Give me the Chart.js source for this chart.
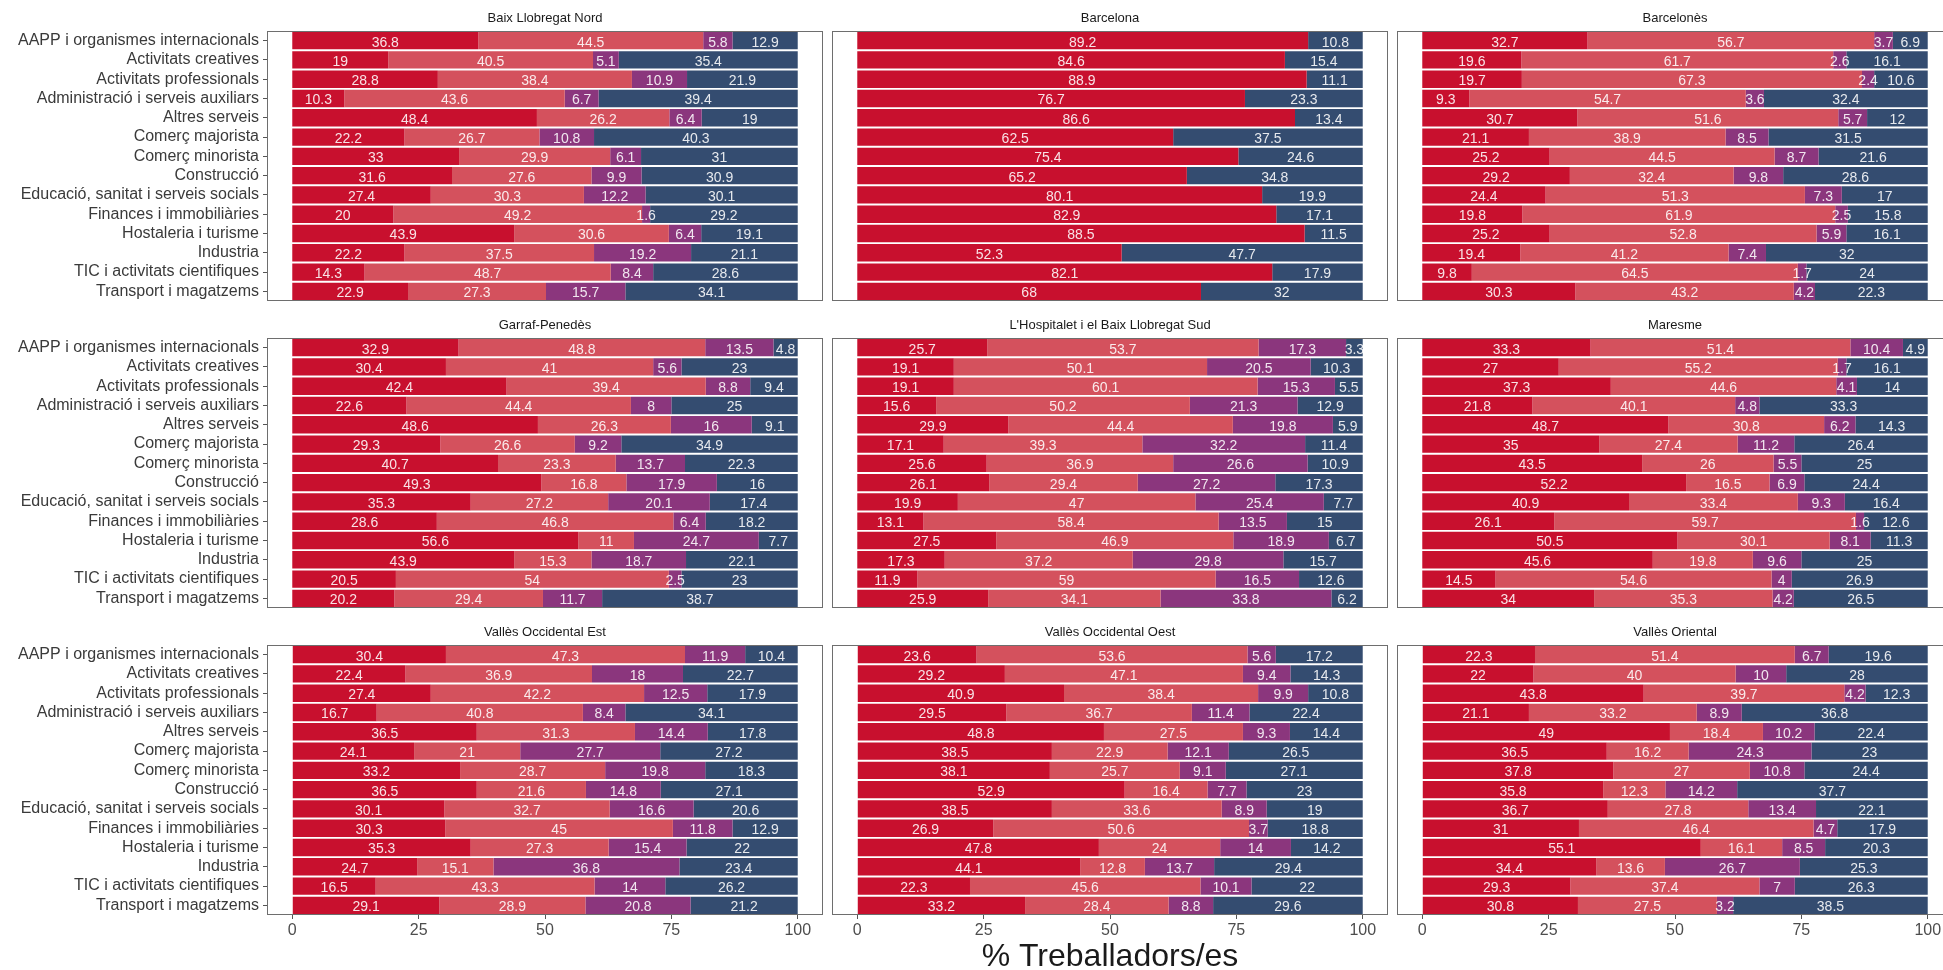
<!DOCTYPE html>
<html>
<head>
<meta charset="utf-8">
<script src="https://cdn.jsdelivr.net/npm/chart.js@4.4.1/dist/chart.umd.min.js"></script>
<style>
  html, body { margin: 0; padding: 0; background: #fff; overflow: hidden; }
  body { width: 1943px; height: 970px; position: relative; }
  canvas { position: absolute; }
</style>
</head>
<body>
<script>
const categories = [
  'AAPP i organismes internacionals',
  'Activitats creatives',
  'Activitats professionals',
  'Administració i serveis auxiliars',
  'Altres serveis',
  'Comerç majorista',
  'Comerç minorista',
  'Construcció',
  'Educació, sanitat i serveis socials',
  'Finances i immobiliàries',
  'Hostaleria i turisme',
  'Industria',
  'TIC i activitats cientifiques',
  'Transport i magatzems'
];

const regions = [
  'Baix Llobregat Nord', 'Barcelona', 'Barcelonès',
  'Garraf-Penedès', "L'Hospitalet i el Baix Llobregat Sud", 'Maresme',
  'Vallès Occidental Est', 'Vallès Occidental Oest', 'Vallès Oriental'
];

const seriesNames = ['Grup 1', 'Grup 2', 'Grup 3', 'Grup 4'];
const seriesColors = ['#C8102E', '#D4515D', '#8B367D', '#344C70'];
const xTicks = [0, 25, 50, 75, 100];
const xTitle = '% Treballadors/es';

// each comarca: [serie 1, serie 2, serie 3, serie 4], one value per category
const baixLlobregatNord = [
  [36.8, 19, 28.8, 10.3, 48.4, 22.2, 33, 31.6, 27.4, 20, 43.9, 22.2, 14.3, 22.9],
  [44.5, 40.5, 38.4, 43.6, 26.2, 26.7, 29.9, 27.6, 30.3, 49.2, 30.6, 37.5, 48.7, 27.3],
  [5.8, 5.1, 10.9, 6.7, 6.4, 10.8, 6.1, 9.9, 12.2, 1.6, 6.4, 19.2, 8.4, 15.7],
  [12.9, 35.4, 21.9, 39.4, 19, 40.3, 31, 30.9, 30.1, 29.2, 19.1, 21.1, 28.6, 34.1]
];
const barcelona = [
  [89.2, 84.6, 88.9, 76.7, 86.6, 62.5, 75.4, 65.2, 80.1, 82.9, 88.5, 52.3, 82.1, 68],
  [],
  [],
  [10.8, 15.4, 11.1, 23.3, 13.4, 37.5, 24.6, 34.8, 19.9, 17.1, 11.5, 47.7, 17.9, 32]
];
const barcelones = [
  [32.7, 19.6, 19.7, 9.3, 30.7, 21.1, 25.2, 29.2, 24.4, 19.8, 25.2, 19.4, 9.8, 30.3],
  [56.7, 61.7, 67.3, 54.7, 51.6, 38.9, 44.5, 32.4, 51.3, 61.9, 52.8, 41.2, 64.5, 43.2],
  [3.7, 2.6, 2.4, 3.6, 5.7, 8.5, 8.7, 9.8, 7.3, 2.5, 5.9, 7.4, 1.7, 4.2],
  [6.9, 16.1, 10.6, 32.4, 12, 31.5, 21.6, 28.6, 17, 15.8, 16.1, 32, 24, 22.3]
];
const garrafPenedes = [
  [32.9, 30.4, 42.4, 22.6, 48.6, 29.3, 40.7, 49.3, 35.3, 28.6, 56.6, 43.9, 20.5, 20.2],
  [48.8, 41, 39.4, 44.4, 26.3, 26.6, 23.3, 16.8, 27.2, 46.8, 11, 15.3, 54, 29.4],
  [13.5, 5.6, 8.8, 8, 16, 9.2, 13.7, 17.9, 20.1, 6.4, 24.7, 18.7, 2.5, 11.7],
  [4.8, 23, 9.4, 25, 9.1, 34.9, 22.3, 16, 17.4, 18.2, 7.7, 22.1, 23, 38.7]
];
const hospitalet = [
  [25.7, 19.1, 19.1, 15.6, 29.9, 17.1, 25.6, 26.1, 19.9, 13.1, 27.5, 17.3, 11.9, 25.9],
  [53.7, 50.1, 60.1, 50.2, 44.4, 39.3, 36.9, 29.4, 47, 58.4, 46.9, 37.2, 59, 34.1],
  [17.3, 20.5, 15.3, 21.3, 19.8, 32.2, 26.6, 27.2, 25.4, 13.5, 18.9, 29.8, 16.5, 33.8],
  [3.3, 10.3, 5.5, 12.9, 5.9, 11.4, 10.9, 17.3, 7.7, 15, 6.7, 15.7, 12.6, 6.2]
];
const maresme = [
  [33.3, 27, 37.3, 21.8, 48.7, 35, 43.5, 52.2, 40.9, 26.1, 50.5, 45.6, 14.5, 34],
  [51.4, 55.2, 44.6, 40.1, 30.8, 27.4, 26, 16.5, 33.4, 59.7, 30.1, 19.8, 54.6, 35.3],
  [10.4, 1.7, 4.1, 4.8, 6.2, 11.2, 5.5, 6.9, 9.3, 1.6, 8.1, 9.6, 4, 4.2],
  [4.9, 16.1, 14, 33.3, 14.3, 26.4, 25, 24.4, 16.4, 12.6, 11.3, 25, 26.9, 26.5]
];
const vallesOccEst = [
  [30.4, 22.4, 27.4, 16.7, 36.5, 24.1, 33.2, 36.5, 30.1, 30.3, 35.3, 24.7, 16.5, 29.1],
  [47.3, 36.9, 42.2, 40.8, 31.3, 21, 28.7, 21.6, 32.7, 45, 27.3, 15.1, 43.3, 28.9],
  [11.9, 18, 12.5, 8.4, 14.4, 27.7, 19.8, 14.8, 16.6, 11.8, 15.4, 36.8, 14, 20.8],
  [10.4, 22.7, 17.9, 34.1, 17.8, 27.2, 18.3, 27.1, 20.6, 12.9, 22, 23.4, 26.2, 21.2]
];
const vallesOccOest = [
  [23.6, 29.2, 40.9, 29.5, 48.8, 38.5, 38.1, 52.9, 38.5, 26.9, 47.8, 44.1, 22.3, 33.2],
  [53.6, 47.1, 38.4, 36.7, 27.5, 22.9, 25.7, 16.4, 33.6, 50.6, 24, 12.8, 45.6, 28.4],
  [5.6, 9.4, 9.9, 11.4, 9.3, 12.1, 9.1, 7.7, 8.9, 3.7, 14, 13.7, 10.1, 8.8],
  [17.2, 14.3, 10.8, 22.4, 14.4, 26.5, 27.1, 23, 19, 18.8, 14.2, 29.4, 22, 29.6]
];
const vallesOriental = [
  [22.3, 22, 43.8, 21.1, 49, 36.5, 37.8, 35.8, 36.7, 31, 55.1, 34.4, 29.3, 30.8],
  [51.4, 40, 39.7, 33.2, 18.4, 16.2, 27, 12.3, 27.8, 46.4, 16.1, 13.6, 37.4, 27.5],
  [6.7, 10, 4.2, 8.9, 10.2, 24.3, 10.8, 14.2, 13.4, 4.7, 8.5, 26.7, 7, 3.2],
  [19.6, 28, 12.3, 36.8, 22.4, 23, 24.4, 37.7, 22.1, 17.9, 20.3, 25.3, 26.3, 38.5]
];

const regionValues = [
  baixLlobregatNord, barcelona, barcelones,
  garrafPenedes, hospitalet, maresme,
  vallesOccEst, vallesOccOest, vallesOriental
];

Chart.defaults.font.family = '"Liberation Sans", Arial, sans-serif';

// panel frames (facet grid)
const frameLeft = [267, 832, 1397];
const frameTop = [31, 338, 645];
const frameW = 556, frameH = 270;

const panelBorder = {
  id: 'panelBorder',
  afterDraw(chart) {
    const {ctx, chartArea: a} = chart;
    ctx.save();
    ctx.strokeStyle = '#6e6e6e';
    ctx.lineWidth = 1;
    ctx.strokeRect(a.left + 0.5, a.top + 0.5, a.right - a.left - 1, a.bottom - a.top - 1);
    ctx.restore();
  }
};

const barLabels = {
  id: 'barLabels',
  afterDatasetsDraw(chart) {
    const ctx = chart.ctx;
    ctx.save();
    ctx.font = '14px "Liberation Sans", Arial, sans-serif';
    ctx.fillStyle = 'rgba(255,255,255,0.88)';
    ctx.textAlign = 'center';
    ctx.textBaseline = 'middle';
    chart.data.datasets.forEach((ds, i) => {
      chart.getDatasetMeta(i).data.forEach((bar, j) => {
        const v = ds.data[j];
        if (v == null) return;
        const p = bar.getCenterPoint();
        ctx.fillText(String(v), p.x, p.y + 2);
      });
    });
    ctx.restore();
  }
};

regions.forEach((name, idx) => {
  const r = Math.floor(idx / 3), c = idx % 3;
  const bottomRow = r === 2;
  const left = c === 0 ? 0 : frameLeft[c] - 6;
  const top = frameTop[r] - 31;
  const width = frameLeft[c] + frameW + 6 - left;
  const height = bottomRow ? 970 - top : 31 + frameH + 16;

  const canvas = document.createElement('canvas');
  canvas.width = width;
  canvas.height = height;
  canvas.style.left = left + 'px';
  canvas.style.top = top + 'px';
  canvas.style.width = width + 'px';
  canvas.style.height = height + 'px';
  document.body.appendChild(canvas);

  const values = regionValues[idx];

  new Chart(canvas, {
    type: 'bar',
    data: {
      labels: categories,
      datasets: seriesNames.map((s, k) => ({
        label: s,
        data: values[k],
        backgroundColor: seriesColors[k],
        borderWidth: 0,
        barPercentage: 0.9,
        categoryPercentage: 1
      }))
    },
    options: {
      indexAxis: 'y',
      responsive: false,
      animation: false,
      devicePixelRatio: 1,
      layout: {
        padding: { left: c === 0 ? 0 : 6, right: 6, top: 0, bottom: bottomRow ? 0 : 16 }
      },
      plugins: {
        legend: { display: false },
        tooltip: { enabled: false },
        title: {
          display: true,
          text: name,
          color: '#1a1a1a',
          fullSize: false,
          font: { size: 13, weight: 'normal', lineHeight: '17px' },
          padding: { top: 10, bottom: 4 }
        }
      },
      scales: {
        x: {
          type: 'linear',
          stacked: true,
          min: -5,
          max: 105,
          display: bottomRow,
          afterBuildTicks: s => { s.ticks = xTicks.map(v => ({ value: v })); },
          afterFit: s => { if (bottomRow) s.height = 55; },
          ticks: { color: '#4d4d4d', font: { size: 16 }, padding: 2 },
          grid: { drawOnChartArea: false, drawTicks: true, tickLength: 4, color: '#555' },
          border: { display: false },
          title: {
            display: c === 1,
            text: xTitle,
            color: '#1a1a1a',
            font: { size: 32, lineHeight: '26px' },
            padding: 0
          }
        },
        y: {
          type: 'category',
          stacked: true,
          display: c === 0,
          afterFit: s => { if (c === 0) s.width = 267; },
          ticks: { color: '#3a3a3a', font: { size: 16 }, padding: 4, autoSkip: false },
          grid: { drawOnChartArea: false, tickLength: 4, offset: false, color: '#555' },
          border: { display: false }
        }
      }
    },
    plugins: [barLabels, panelBorder]
  });
});
</script>
</body>
</html>
